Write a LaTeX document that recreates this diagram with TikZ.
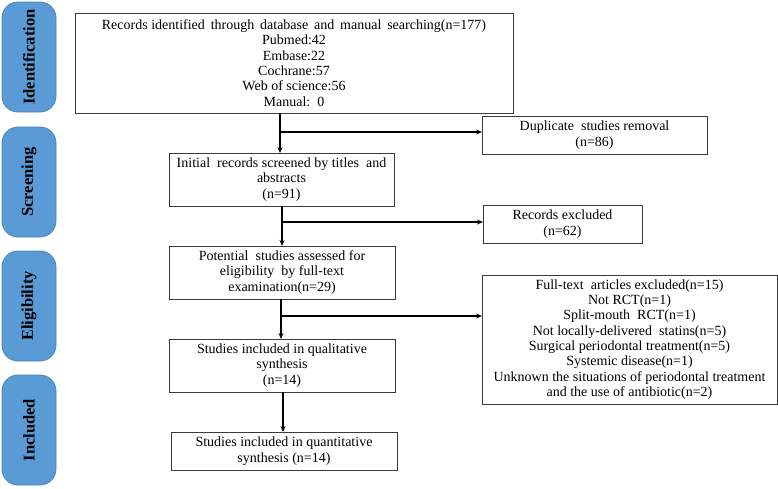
\documentclass[tikz,border=0pt]{standalone}
\usepackage{fontspec}
\setmainfont{Liberation Serif}
\usetikzlibrary{arrows.meta}
\definecolor{sidefill}{HTML}{5B9BD5}
\definecolor{sidedraw}{HTML}{4A84BC}
\definecolor{linegray}{HTML}{3A3A3A}
\begin{document}
\begin{tikzpicture}[x=1pt,y=-1pt,
  every node/.style={inner sep=0pt,outer sep=0pt},
  flowbox/.style={draw=linegray,line width=0.9pt,align=center,
    font=\fontsize{14}{15.3}\selectfont,anchor=center},
  sidebox/.style={draw=sidedraw,fill=sidefill,line width=0.8pt,rounded corners=16pt,
    minimum width=54pt,minimum height=110pt,anchor=center},
  sidetext/.style={rotate=90,font=\fontsize{16.5}{18}\selectfont\bfseries,text=black},
  conn/.style={draw=black,line width=1.1pt,-{Stealth[length=6pt,width=5pt]}}]
\useasboundingbox (0,0) rectangle (778,488);
% side labels
\node[sidebox] (sid) at (29,57) {};
\node[sidetext] at (sid.center) {Identification};
\node[sidebox] (sscr) at (29,182) {};
\node[sidetext] at (sscr.center) {Screening};
\node[sidebox] (self) at (29,306) {};
\node[sidetext] at (self.center) {Eligibility};
\node[sidebox] (sinc) at (29,430) {};
\node[sidetext] at (sinc.center) {Included};
% boxes
\node[flowbox,minimum width=438pt,minimum height=100pt] (b1) at (294,63)
  {Records identified\ \,through\ \,database\ \,and\ \,manual\ \,searching(n=177)\\Pubmed:42\\Embase:22\\Cochrane:57\\Web of science:56\\Manual:\ \ 0};
\node[flowbox,minimum width=225pt,minimum height=38pt] (dup) at (594.5,135)
  {Duplicate\ \ studies removal\\(n=86)};
\node[flowbox,minimum width=225pt,minimum height=53pt] (b2) at (281.5,179.5)
  {Initial\ \ records screened by titles\ \ and\\abstracts\\(n=91)};
\node[flowbox,minimum width=159pt,minimum height=38pt] (exc) at (562.5,224)
  {Records excluded\\(n=62)};
\node[flowbox,minimum width=226pt,minimum height=53pt] (b3) at (282,272.5)
  {Potential\ \ studies assessed for\\eligibility\ \ by full-text\\examination(n=29)};
\node[flowbox,minimum width=295pt,minimum height=129pt] (ft) at (629.5,339.5)
  {Full-text\ \ articles excluded(n=15)\\Not RCT(n=1)\\Split-mouth\ \ RCT(n=1)\\Not locally-delivered\ \ statins(n=5)\\Surgical periodontal treatment(n=5)\\Systemic disease(n=1)\\Unknown the situations of periodontal treatment\\and the use of antibiotic(n=2)};
\node[flowbox,minimum width=226pt,minimum height=53pt] (b4) at (282,365.5)
  {Studies included in qualitative\\synthesis\\(n=14)};
\node[flowbox,minimum width=226pt,minimum height=38pt] (b5) at (284,451)
  {Studies included in quantitative\\synthesis (n=14)};
% connectors
\coordinate (j1) at (280,132);
\coordinate (j2) at (282,222);
\coordinate (j3) at (281,316);
\draw[conn] (b1.south -| j1) -- (b2.north -| j1);
\draw[conn] (j1) -- (j1 -| dup.west);
\draw[conn] (b2.south -| j2) -- (b3.north -| j2);
\draw[conn] (j2) -- (j2 -| exc.west);
\draw[conn] (b3.south -| j3) -- (b4.north -| j3);
\draw[conn] (j3) -- (j3 -| ft.west);
\draw[conn] (b4.south -| b5.north) ++(-1,0) coordinate (j4) -- (b5.north -| j4);
\end{tikzpicture}
\end{document}
